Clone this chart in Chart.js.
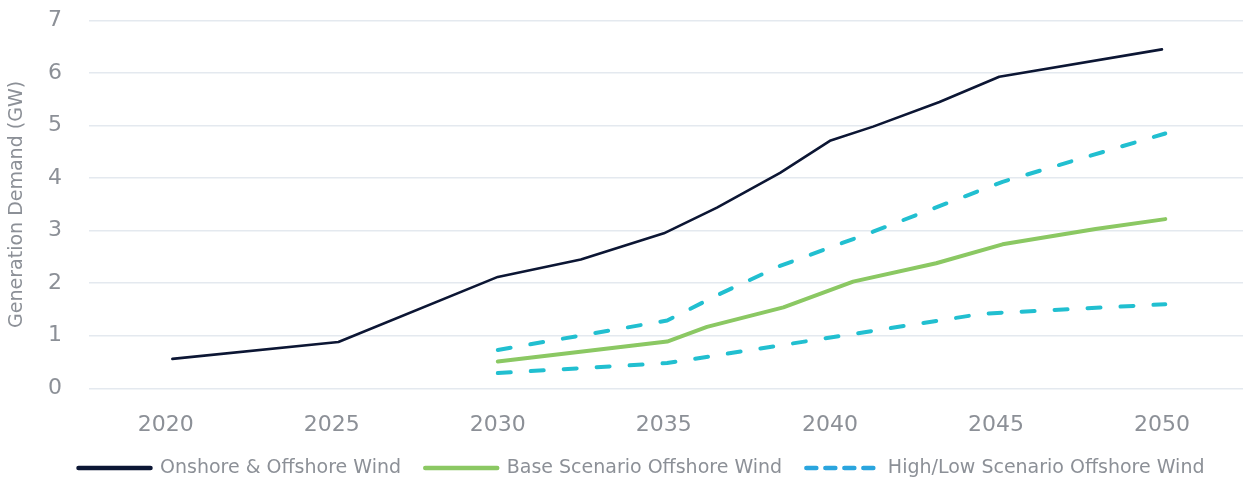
<!DOCTYPE html>
<html>
<head>
<meta charset="utf-8">
<title>Generation Demand (GW)</title>
<script src="https://cdn.jsdelivr.net/npm/chart.js@4/dist/chart.umd.min.js"></script>
<style>
  html, body { margin: 0; padding: 0; background: #ffffff; }
  #wrap { position: relative; width: 1243px; height: 481px; }
</style>
</head>
<body>
<div id="wrap"><canvas id="demandChart"></canvas></div>
<script>
// Series are given as (year, GW) pairs; years are fractional where the
// line bends between the labelled years.
const onshoreYears = [2020.2, 2025.2, 2030, 2032.5, 2035, 2036.6, 2038.5, 2040, 2041.3, 2043.3, 2045.1, 2050];
const onshoreGW    = [0.56, 0.88, 2.12, 2.45, 2.95, 3.44, 4.10, 4.71, 4.98, 5.45, 5.93, 6.45];

const baseYears = [2030, 2035.1, 2036.3, 2038.6, 2040.7, 2043.2, 2045.2, 2048, 2050.1];
const baseGW    = [0.51, 0.89, 1.17, 1.54, 2.03, 2.38, 2.74, 3.03, 3.22];

const highYears = [2030, 2035.1, 2036.6, 2038.5, 2041.3, 2045.2, 2050.1];
const highGW    = [0.73, 1.29, 1.77, 2.33, 2.98, 3.93, 4.85];

const lowYears = [2030, 2035.1, 2044.6, 2050.1];
const lowGW    = [0.29, 0.48, 1.42, 1.60];

const yearTicks = [2020, 2025, 2030, 2035, 2040, 2045, 2050];
const gwTicks = [0, 1, 2, 3, 4, 5, 6, 7];

const seriesNames = ['Onshore & Offshore Wind', 'Base Scenario Offshore Wind', 'High/Low Scenario Offshore Wind'];

const navy = '#0c1634';
const green = '#8bc863';
const teal = '#21bfd0';
const legendBlue = '#2aa5de';
const grey = '#8c9097';
const fontFamily = '"DejaVu Sans", "Noto Sans", sans-serif';

function points(xs, ys) {
    return xs.map(function (x, i) { return { x: x, y: ys[i] }; });
}

const dashed = {
    borderColor: teal,
    borderWidth: 4,
    borderDash: [13, 20],
    borderCapStyle: 'round',
    borderJoinStyle: 'round',
    pointRadius: 0,
    fill: false,
    tension: 0
};

document.addEventListener('DOMContentLoaded', function () {
    const ctx = document.getElementById('demandChart').getContext('2d');
    new Chart(ctx, {
        type: 'line',
        data: {
            datasets: [
                {
                    label: seriesNames[0],
                    data: points(onshoreYears, onshoreGW),
                    borderColor: navy,
                    borderWidth: 2.6,
                    borderCapStyle: 'round',
                    borderJoinStyle: 'round',
                    pointRadius: 0,
                    fill: false,
                    tension: 0
                },
                {
                    label: seriesNames[1],
                    data: points(baseYears, baseGW),
                    borderColor: green,
                    borderWidth: 4,
                    borderCapStyle: 'round',
                    borderJoinStyle: 'round',
                    pointRadius: 0,
                    fill: false,
                    tension: 0
                },
                Object.assign({ label: seriesNames[2], data: points(highYears, highGW) }, dashed),
                Object.assign({ label: seriesNames[2], data: points(lowYears, lowGW) }, dashed)
            ]
        },
        options: {
            responsive: true,
            maintainAspectRatio: false,
            animation: false,
            // the legend row sits a little right of centre, so the whole
            // layout is shifted right and the plot runs off the right edge
            layout: { padding: { top: 20.5, right: -20, bottom: -6.5, left: 20 } },
            plugins: {
                tooltip: { enabled: false },
                legend: {
                    position: 'bottom',
                    labels: {
                        color: grey,
                        font: { family: fontFamily, size: 19 },
                        usePointStyle: true,
                        pointStyle: 'line',
                        pointStyleWidth: 72,
                        padding: 24.2,
                        filter: function (item) { return item.datasetIndex !== 3; },
                        generateLabels: function (chart) {
                            const items = Chart.defaults.plugins.legend.labels.generateLabels(chart);
                            items.forEach(function (item) {
                                item.lineWidth = 4.5;
                                item.lineCap = 'round';
                                if (item.datasetIndex >= 2) {
                                    item.strokeStyle = legendBlue;
                                    item.lineDash = [10, 9];
                                } else {
                                    item.lineDash = [];
                                }
                            });
                            return items;
                        }
                    }
                }
            },
            scales: {
                x: {
                    type: 'linear',
                    min: 2017.69,
                    max: 2052.44,
                    afterFit: function (axis) { axis.height = 46; },
                    afterBuildTicks: function (axis) {
                        axis.ticks = yearTicks.map(function (v) { return { value: v }; });
                    },
                    grid: { display: false },
                    border: { display: false },
                    ticks: {
                        color: grey,
                        padding: 16,
                        font: { family: fontFamily, size: 22 },
                        callback: function (value) { return String(value); }
                    }
                },
                y: {
                    min: 0,
                    max: 7,
                    afterFit: function (axis) {
                        // fixed gutter; the tick padding should not push the plot down
                        axis.width = 69;
                        axis.paddingTop = 0;
                        axis.paddingBottom = 0;
                    },
                    afterBuildTicks: function (axis) {
                        axis.ticks = gwTicks.map(function (v) { return { value: v }; });
                    },
                    grid: { color: '#e4e9ef', lineWidth: 1.5, drawTicks: false },
                    border: { display: false },
                    ticks: {
                        color: grey,
                        padding: 27,
                        font: { family: fontFamily, size: 22 }
                    },
                    title: {
                        display: true,
                        text: 'Generation Demand (GW)',
                        color: grey,
                        padding: { top: -14.4, bottom: 0 },
                        font: { family: fontFamily, size: 19 }
                    }
                }
            }
        }
    });
});
</script>
</body>
</html>
